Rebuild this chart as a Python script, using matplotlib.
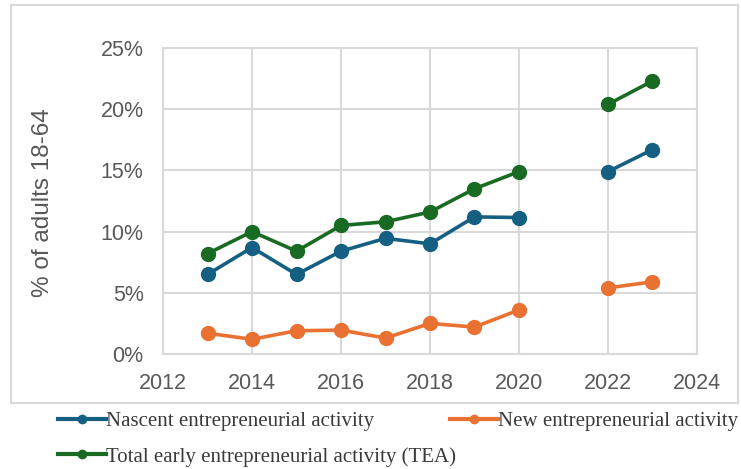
import matplotlib.pyplot as plt
import numpy as np
from matplotlib.lines import Line2D
from matplotlib.patches import Rectangle
from matplotlib.ticker import FuncFormatter

# GEM Adult Population Survey rates (no survey in 2021)
years = [2013, 2014, 2015, 2016, 2017, 2018, 2019, 2020, 2021, 2022, 2023]
nascent = [6.5, 8.7, 6.5, 8.4, 9.45, 9.0, 11.2, 11.15, np.nan, 14.9, 16.7]
new_biz = [1.7, 1.2, 1.9, 1.95, 1.3, 2.5, 2.2, 3.6, np.nan, 5.4, 5.9]
tea = [8.2, 10.0, 8.4, 10.5, 10.8, 11.6, 13.5, 14.9, np.nan, 20.4, 22.3]

labels = ['Nascent entrepreneurial activity',
          'New entrepreneurial activity',
          'Total early entrepreneurial activity (TEA)']
colors = ['#156082', '#E97132', '#196B24']

grey = '#595959'
grid_col = '#d9d9d9'

fig = plt.figure(figsize=(7.41, 4.69), dpi=100)
ax = fig.add_axes([0.220, 0.2452, 0.7206, 0.6525])

for vals, col in zip([nascent, new_biz, tea], colors):
    ax.plot(years, vals, color=col, lw=2.6, marker='o', ms=10, zorder=3)

ax.set_xlim(2012, 2024)
ax.set_ylim(0, 25)
ax.set_xticks(range(2012, 2025, 2))
ax.set_yticks(range(0, 26, 5))
ax.yaxis.set_major_formatter(FuncFormatter(lambda v, p: f'{int(v)}%'))
ax.grid(True, color=grid_col, lw=1.5)
ax.set_axisbelow(True)
for s in ax.spines.values():
    s.set_color(grid_col)
    s.set_linewidth(1.5)
ax.tick_params(length=0, labelsize=15.5, labelcolor=grey, pad=14)
for t in ax.get_xticklabels() + ax.get_yticklabels():
    t.set_family('Liberation Sans')

fig.text(0.058, 0.569, '% of adults 18-64', rotation=90, ha='center', va='center',
         fontsize=17.5, color=grey, family='Liberation Sans')

# outer chart border
fig.patches.append(Rectangle((11 / 741, 1 - 403 / 469), 727 / 741, 398 / 469,
                             transform=fig.transFigure, fill=False,
                             edgecolor=grid_col, lw=1.5))

# legend below the chart: Nascent / TEA on the left, New to the right
handles = [Line2D([], [], color=c, lw=3, marker='o', ms=6) for c in colors]
leg_kw = dict(loc='upper left', frameon=False, handlelength=2.3,
              handletextpad=0.0, labelspacing=0.75, borderpad=0.0,
              borderaxespad=0.0,
              prop={'family': 'Liberation Serif', 'size': 15},
              labelcolor='#3a3a3a')
fig.legend([handles[0], handles[2]], [labels[0], labels[2]],
           bbox_to_anchor=(0.078, 0.122), **leg_kw)
fig.legend([handles[1]], [labels[1]],
           bbox_to_anchor=(0.607, 0.122), **leg_kw)

fig.savefig('out.png', dpi=100)
